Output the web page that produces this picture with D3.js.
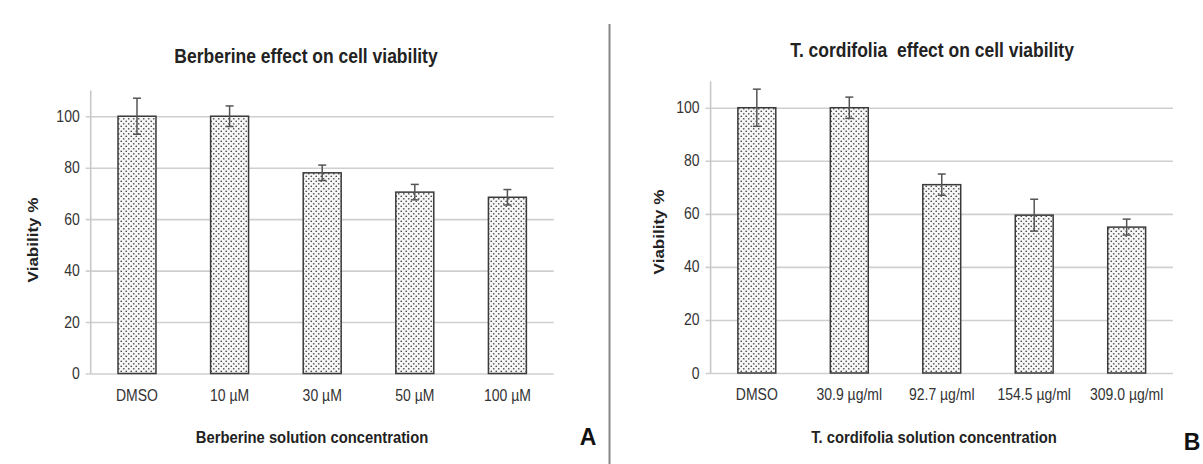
<!DOCTYPE html>
<html>
<head>
<meta charset="utf-8">
<script src="https://cdn.jsdelivr.net/npm/d3@7"></script>
<style>
  body { margin: 0; background: #fff; }
  svg { display: block; font-family: "Liberation Sans", Arial, sans-serif; }
</style>
</head>
<body>
<div id="chartContainer"></div>
<script>
// Values
const categoriesA = ["DMSO", "10 µM", "30 µM", "50 µM", "100 µM"];
const viabilityA = [100, 100, 78, 70.5, 68.5];
const errorA = [7, 4, 3, 3, 3];

const categoriesB = ["DMSO", "30.9 µg/ml", "92.7 µg/ml", "154.5 µg/ml", "309.0 µg/ml"];
const viabilityB = [100, 100, 71, 59.5, 55];
const errorB = [7, 4, 4, 6, 3];

const yTicks = [0, 20, 40, 60, 80, 100];

const width = 1203;
const height = 464;
// the source figure is slightly stretched vertically, text too
const stretch = 1.12;

const svg = d3.create("svg")
    .attr("viewBox", [0, 0, width, height])
    .attr("width", width)
    .attr("height", height);

// Dotted fill used by every bar
const pattern = svg.append("defs").append("pattern")
    .attr("id", "dots")
    .attr("patternUnits", "userSpaceOnUse")
    .attr("width", 5)
    .attr("height", 5);
pattern.append("rect").attr("width", 5).attr("height", 5).attr("fill", "#f7f7f7");
pattern.append("circle").attr("cx", 1.25).attr("cy", 1.25).attr("r", 0.85).attr("fill", "#4a4a4a");
pattern.append("circle").attr("cx", 3.75).attr("cy", 3.75).attr("r", 0.85).attr("fill", "#4a4a4a");

function label(g, x, y, txt, size, weight, anchor) {
    return g.append("text")
        .attr("transform", `translate(${x},${y}) scale(1,${stretch})`)
        .attr("text-anchor", anchor || "middle")
        .attr("font-size", size)
        .attr("font-weight", weight || "normal")
        .attr("fill", "#222")
        .style("white-space", "pre")
        .text(txt);
}

function drawPanel(p) {
    const data = p.categories.map((c, i) => ({ cat: c, v: p.values[i], e: p.errors[i] }));

    const x = d3.scaleBand()
        .domain(p.categories)
        .range([p.left, p.right])
        .paddingInner(0.59)
        .paddingOuter(0.295);

    const y = d3.scaleLinear()
        .domain([0, 110])
        .range([p.bottom, p.top]);

    const g = svg.append("g");

    // Gridlines + y tick labels
    const yAxis = g.append("g")
        .attr("transform", `translate(${p.left},0)`)
        .call(d3.axisLeft(y).tickValues(yTicks).tickSize(-(p.right - p.left)).tickSizeOuter(0).tickPadding(11))
        .call(g => g.select(".domain").remove());
    yAxis.selectAll(".tick line")
        .attr("x1", -5)
        .attr("stroke", "#cfcfcf")
        .attr("stroke-width", 1.6);
    yAxis.selectAll(".tick text")
        .attr("transform", `scale(1,${stretch})`)
        .attr("font-size", 14)
        .attr("font-family", "Liberation Sans, Arial, sans-serif")
        .attr("fill", "#333");

    // Vertical axis line
    g.append("line")
        .attr("x1", p.left).attr("x2", p.left)
        .attr("y1", y(110)).attr("y2", y(0))
        .attr("stroke", "#c8c8c8")
        .attr("stroke-width", 1.6);

    // Bars
    g.append("g")
        .selectAll("rect")
        .data(data)
        .join("rect")
        .attr("x", d => x(d.cat))
        .attr("y", d => y(d.v))
        .attr("width", x.bandwidth())
        .attr("height", d => y(0) - y(d.v))
        .attr("fill", "url(#dots)")
        .attr("stroke", "#3a3a3a")
        .attr("stroke-width", 1.5);

    // Error bars
    const eb = g.append("g")
        .attr("stroke", "#555")
        .attr("stroke-width", 1.5);
    eb.selectAll(".stem")
        .data(data)
        .join("line")
        .attr("x1", d => x(d.cat) + x.bandwidth() / 2)
        .attr("x2", d => x(d.cat) + x.bandwidth() / 2)
        .attr("y1", d => y(d.v + d.e))
        .attr("y2", d => y(d.v - d.e));
    [1, -1].forEach(s => {
        eb.selectAll(null)
            .data(data)
            .join("line")
            .attr("x1", d => x(d.cat) + x.bandwidth() / 2 - 4)
            .attr("x2", d => x(d.cat) + x.bandwidth() / 2 + 4)
            .attr("y1", d => y(d.v + s * d.e))
            .attr("y2", d => y(d.v + s * d.e));
    });

    // Category labels
    data.forEach(d => {
        label(g, x(d.cat) + x.bandwidth() / 2, p.bottom + 27, d.cat, 14).attr("fill", "#333");
    });

    // Chart title
    label(g, p.titleX, p.titleY, p.title, 17.5, "bold");

    // Axis titles
    label(g, p.xTitleX, 443, p.xTitle, 14.8, "bold");

    g.append("text")
        .attr("transform", `translate(${p.yTitleX},${p.yTitleY}) scale(1,${stretch}) rotate(-90)`)
        .attr("text-anchor", "middle")
        .attr("dy", "0.35em")
        .attr("font-size", 15.2)
        .attr("font-weight", "bold")
        .attr("fill", "#222")
        .text("Viability %");

    // Panel letter
    g.append("text")
        .attr("x", p.letterX)
        .attr("y", p.letterY)
        .attr("text-anchor", "middle")
        .attr("font-size", 23)
        .attr("font-weight", "bold")
        .attr("fill", "#111")
        .text(p.letter);
}

drawPanel({
    categories: categoriesA, values: viabilityA, errors: errorA,
    left: 90.7, right: 553.7, top: 90.5, bottom: 373.5,
    title: "Berberine effect on cell viability", titleX: 306, titleY: 63,
    xTitle: "Berberine solution concentration", xTitleX: 312,
    yTitleX: 33, yTitleY: 240,
    letter: "A", letterX: 588, letterY: 445
});

drawPanel({
    categories: categoriesB, values: viabilityB, errors: errorB,
    left: 710.6, right: 1172.9, top: 81.2, bottom: 373,
    title: "T. cordifolia  effect on cell viability", titleX: 932, titleY: 57,
    xTitle: "T. cordifolia solution concentration", xTitleX: 934,
    yTitleX: 659, yTitleY: 232,
    letter: "B", letterX: 1192, letterY: 450
});

// Divider between panels
svg.append("line")
    .attr("x1", 609.5).attr("x2", 609.5)
    .attr("y1", 24).attr("y2", height)
    .attr("stroke", "#888")
    .attr("stroke-width", 2);

document.getElementById("chartContainer").appendChild(svg.node());
</script>
</body>
</html>
